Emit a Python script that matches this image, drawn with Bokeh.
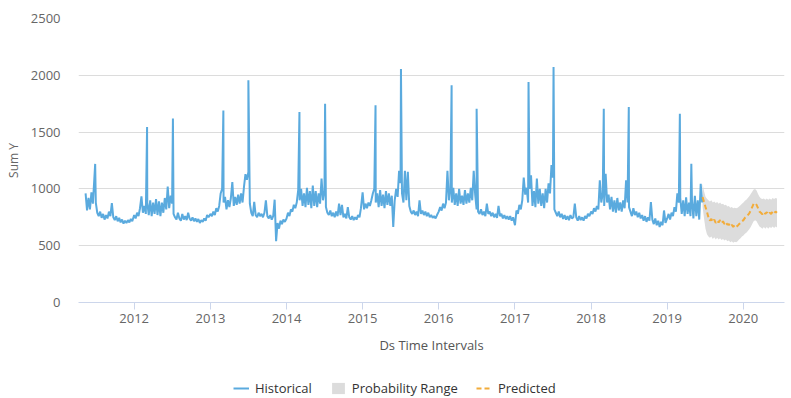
from datetime import datetime, timedelta
import pandas as pd
from bokeh.plotting import figure
from bokeh.layouts import column
from bokeh.models import (Range1d, FixedTicker, DatetimeTickFormatter, Legend,
                          LegendItem, ColumnDataSource)
from bokeh.embed import file_html
from bokeh.resources import INLINE

FONT = "Open Sans"

# ---------------- data (weekly readings) ----------------
hist_start = ["2011-05-13", "2012-01-01", "2013-01-01", "2014-01-01", "2015-01-01",
              "2016-01-01", "2017-01-01", "2018-01-01", "2019-01-01"]

hist_2011 = [960, 810, 920, 820, 970, 870, 1090, 880, 790, 760, 800, 745, 780, 730, 770, 740,
             800, 760, 875, 750, 725, 760, 715, 745, 705, 730, 695, 720, 700, 725, 705, 735, 715]
hist_2012 = [770, 740, 790, 760, 830, 935, 790, 850, 780, 880, 770, 900, 760, 880, 780, 910,
             770, 890, 760, 880, 790, 920, 820, 1020, 830, 940, 870, 780, 750, 730, 790, 740,
             720, 780, 730, 760, 725, 790, 740, 720, 750, 715, 740, 710, 735, 700, 725, 710,
             740, 720, 770, 750]
hist_2013 = [780, 760, 800, 770, 830, 800, 850, 960, 1000, 880, 930, 820, 900, 840, 920, 1060,
             850, 930, 860, 950, 870, 960, 880, 1020, 1130, 1080, 1150, 870, 790, 760, 885, 770,
             750, 790, 760, 780, 750, 790, 900, 760, 740, 770, 730, 760, 905, 540, 700, 650,
             720, 690, 730, 710]
hist_2014 = [740, 790, 760, 820, 800, 860, 830, 880, 990, 900, 1000, 850, 960, 840, 1010, 860,
             980, 830, 1030, 850, 980, 840, 960, 870, 1090, 900, 980, 840, 790, 770, 810, 760,
             790, 750, 800, 760, 870, 770, 860, 750, 780, 740, 840, 750, 730, 760, 725, 750,
             730, 770, 750, 830]
hist_2015 = [970, 820, 870, 830, 880, 850, 900, 960, 1000, 880, 960, 840, 990, 850, 950, 830,
             980, 860, 960, 850, 940, 664, 900, 1000, 930, 1160, 1050, 960, 880, 1160, 900, 1150,
             850, 800, 780, 810, 770, 800, 760, 900, 780, 810, 770, 800, 760, 790, 750, 770,
             745, 760, 740, 770]
hist_2016 = [800, 840, 810, 870, 830, 880, 1160, 900, 1000, 880, 1010, 860, 960, 850, 1000, 870,
             940, 860, 990, 870, 960, 880, 1010, 900, 1160, 950, 820, 800, 780, 820, 770, 800,
             760, 870, 780, 800, 760, 790, 750, 780, 745, 850, 760, 780, 740, 770, 735, 760,
             730, 760, 720, 750]
hist_2017 = [680, 810, 780, 860, 820, 900, 1100, 950, 1010, 880, 1000, 1120, 850, 980, 840, 1090,
             870, 1000, 850, 960, 830, 1000, 880, 1050, 960, 1210, 1100, 820, 790, 760, 800, 750,
             780, 735, 770, 730, 760, 725, 770, 740, 750, 870, 750, 720, 760, 725, 750, 720,
             760, 740, 780, 760]
hist_2018 = [800, 780, 830, 800, 850, 820, 1075, 880, 960, 850, 1134, 880, 950, 820, 930, 800,
             900, 790, 920, 810, 880, 800, 900, 830, 1075, 880, 840, 800, 760, 830, 770, 800,
             750, 790, 740, 770, 720, 760, 710, 750, 720, 884, 730, 690, 740, 680, 720, 664,
             710, 680, 810, 700]
hist_2019 = [740, 780, 730, 790, 760, 840, 800, 960, 880, 920, 780, 900, 760, 925, 780, 880,
             760, 900, 740, 940, 760, 900, 730, 1045, 880]

spike_dates = ["2011-06-28", "2012-03-03", "2012-07-05", "2013-03-04", "2013-07-02",
               "2014-03-04", "2014-07-05", "2015-03-04", "2015-07-04", "2016-03-03",
               "2016-07-01", "2017-03-07", "2017-07-05", "2018-03-03", "2018-07-01",
               "2019-03-03", "2019-04-27"]
spike_values = [1220, 1545, 1620, 1690, 1956, 1677, 1750, 1736, 2056, 1912,
                1706, 1941, 2073, 1706, 1720, 1662, 1222]

pred_start = "2019-06-20"
pred_values = [928, 884, 840, 800, 750, 720, 735, 710, 730, 700, 720, 705, 725, 700, 715, 690,
               705, 685, 690, 670, 685, 665, 680, 665, 675, 690, 700, 715, 725, 745, 755, 770,
               785, 810, 840, 870, 875, 860, 830, 800, 790, 775, 795, 780, 795, 775, 790, 780,
               800, 785, 800, 790]
pred_upper = [1045, 980, 930, 913, 900, 890, 900, 880, 890, 875, 885, 870, 880, 865, 870, 855,
              860, 845, 850, 835, 840, 830, 835, 830, 835, 845, 855, 870, 880, 895, 905, 920,
              935, 955, 975, 995, 1000, 985, 955, 930, 915, 910, 915, 905, 915, 905, 915, 905,
              920, 910, 920, 915]
pred_lower = [840, 740, 650, 600, 580, 570, 580, 560, 575, 555, 570, 555, 565, 550, 560, 545,
              555, 540, 545, 530, 540, 525, 535, 530, 540, 555, 565, 580, 590, 605, 615, 630,
              645, 665, 690, 715, 725, 715, 690, 670, 660, 650, 665, 650, 665, 650, 665, 655,
              670, 655, 670, 660]

year_ticks = list(range(2012, 2021))
y_ticks = [0, 500, 1000, 1500, 2000, 2500]

# ---------------- build series ----------------
def weekly(start, n):
    d0 = datetime.strptime(start, "%Y-%m-%d")
    return [d0 + timedelta(days=7 * i) for i in range(n)]

hx, hy = [], []
for start, vals in zip(hist_start, [hist_2011, hist_2012, hist_2013, hist_2014, hist_2015,
                                    hist_2016, hist_2017, hist_2018, hist_2019]):
    hx += weekly(start, len(vals))
    hy += vals
hx += [datetime.strptime(d, "%Y-%m-%d") for d in spike_dates]
hy += spike_values
pairs = sorted(zip(hx, hy))
hist_src = ColumnDataSource(dict(x=[a for a, _ in pairs], y=[b for _, b in pairs]))

px = weekly(pred_start, len(pred_values))
pred_src = ColumnDataSource(dict(x=px, y=pred_values, lo=pred_lower, hi=pred_upper))

HIST_STYLE = dict(line_color="#5aaade", line_width=2)
BAND_STYLE = dict(fill_color="#dcdcdc", fill_alpha=1.0)
PRED_STYLE = dict(line_color="#f2ac3a", line_width=2, line_dash="5 3")

# ---------------- main figure ----------------
p = figure(frame_width=706, frame_height=284, x_axis_type="datetime", output_backend="svg",
           toolbar_location=None,
           x_range=Range1d(datetime(2011, 4, 9), datetime(2020, 7, 17)),
           y_range=Range1d(0, 2500),
           min_border_left=78, min_border_right=7, min_border_top=18, min_border_bottom=74)
p.outline_line_color = None
p.background_fill_color = "white"
p.border_fill_color = "white"

p.varea(x="x", y1="lo", y2="hi", source=pred_src, **BAND_STYLE)
p.line(x="x", y="y", source=hist_src, **HIST_STYLE)
p.line(x="x", y="y", source=pred_src, **PRED_STYLE)

xa = p.xaxis[0]
xa.ticker = FixedTicker(ticks=[pd.Timestamp(f"{y}-01-01").value // 10**6 for y in year_ticks])
xa.formatter = DatetimeTickFormatter(years="%Y", months="%Y", days="%Y", hours="%Y",
                                     minutes="%Y", seconds="%Y", milliseconds="%Y",
                                     microseconds="%Y")
xa.axis_line_color = "#ccd6eb"
xa.major_tick_line_color = "#ccd6eb"
xa.major_tick_out = 7
xa.major_tick_in = 0
xa.minor_tick_line_color = None
xa.major_label_standoff = 4
xa.major_label_text_font = FONT
xa.major_label_text_font_size = "13px"
xa.major_label_text_color = "#666666"
xa.axis_label = "Ds Time Intervals"
xa.axis_label_text_font = FONT
xa.axis_label_text_font_size = "13px"
xa.axis_label_text_font_style = "normal"
xa.axis_label_text_color = "#555555"
xa.axis_label_standoff = 10

ya = p.yaxis[0]
ya.ticker = FixedTicker(ticks=y_ticks)
ya.axis_line_color = None
ya.major_tick_line_color = None
ya.minor_tick_line_color = None
ya.major_label_standoff = 12
ya.major_label_text_font = FONT
ya.major_label_text_font_size = "13px"
ya.major_label_text_color = "#666666"
ya.axis_label = "Sum Y"
ya.axis_label_text_font = FONT
ya.axis_label_text_font_size = "12px"
ya.axis_label_text_font_style = "normal"
ya.axis_label_text_color = "#666666"
ya.axis_label_standoff = 6

p.xgrid.grid_line_color = None
p.ygrid.ticker = FixedTicker(ticks=y_ticks)
p.ygrid.grid_line_color = "#dcdcdc"
p.ygrid.grid_line_width = 1

# ---------------- legend strip ----------------
lf = figure(width=791, height=22, output_backend="svg", toolbar_location=None,
            x_axis_location=None, y_axis_location=None,
            x_range=Range1d(0, 1), y_range=Range1d(-2, -1),
            min_border_left=0, min_border_right=0, min_border_top=0, min_border_bottom=0)
lf.outline_line_color = None
lf.xgrid.visible = False
lf.ygrid.visible = False
lf.background_fill_color = "white"
lf.border_fill_color = "white"

# same data, drawn out of this strip's view; only their legend symbols show
lr_hist = lf.line(x="x", y="y", source=hist_src, **HIST_STYLE)
lr_band = lf.varea(x="x", y1="lo", y2="hi", source=pred_src, **BAND_STYLE)
lr_pred = lf.line(x="x", y="y", source=pred_src, **PRED_STYLE)

# the column aligns this strip's frame with the chart frame (which starts 78 px in)
legend = Legend(items=[LegendItem(label="Historical", renderers=[lr_hist]),
                       LegendItem(label="Probability Range", renderers=[lr_band]),
                       LegendItem(label="Predicted", renderers=[lr_pred])],
                orientation="horizontal", location=(155, 1),
                label_text_font=FONT, label_text_font_size="13px",
                label_text_color="#333333", glyph_width=16, glyph_height=14,
                label_height=14, label_standoff=6, spacing=18, padding=0, margin=0,
                border_line_color=None, background_fill_alpha=0)
lf.add_layout(legend, "center")

page = column(p, lf, spacing=0)
open("out.html", "w").write(file_html(page, INLINE))
